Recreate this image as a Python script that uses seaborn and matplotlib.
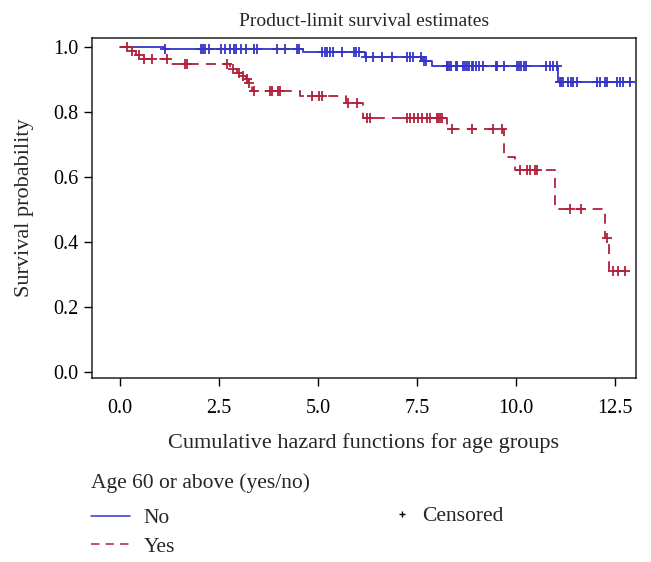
import numpy as np
import pandas as pd
import matplotlib
matplotlib.use("Agg")
import matplotlib.pyplot as plt
import seaborn as sns
from matplotlib.lines import Line2D

# ---- data ----
no_times = [0.0, 1.12, 4.63, 6.19, 7.64, 7.87, 11.07, 12.92]
no_surv = [1.0, 0.993, 0.985, 0.967, 0.955, 0.941, 0.893, 0.893]
no_censored = [1.15, 2.05, 2.10, 2.14, 2.26, 2.56, 2.66, 2.78, 2.89, 2.94, 3.06,
               3.19, 3.39, 3.46, 3.96, 4.17, 4.47, 4.53, 5.10, 5.18, 5.24, 5.31,
               5.39, 5.60, 5.90, 5.96, 6.03, 6.22, 6.40, 6.61, 6.86, 7.24, 7.33,
               7.41, 7.60, 7.68, 7.74, 8.25, 8.27, 8.32, 8.35, 8.49, 8.52, 8.66,
               8.71, 8.77, 8.82, 8.88, 8.92, 8.98, 9.07, 9.16, 9.50, 9.53, 9.71,
               10.03, 10.08, 10.14, 10.20, 10.25, 10.77, 10.86, 10.94, 11.03,
               11.10, 11.13, 11.18, 11.32, 11.39, 11.45, 11.53, 12.04, 12.12,
               12.25, 12.29, 12.54, 12.62, 12.69, 12.88]

yes_times = [0.0, 0.25, 0.42, 0.55, 1.27, 2.78, 2.95, 3.08, 3.18, 3.24, 3.33,
             4.55, 5.71, 6.15, 8.25, 9.70, 9.97, 10.98, 12.25, 12.36, 12.80]
yes_surv = [1.0, 0.988, 0.974, 0.961, 0.947, 0.933, 0.920, 0.910, 0.900, 0.887,
            0.864, 0.847, 0.826, 0.782, 0.746, 0.662, 0.620, 0.500, 0.410, 0.310,
            0.310]
yes_censored = [0.18, 0.30, 0.48, 0.62, 0.81, 1.19, 1.65, 1.70, 2.70, 2.85, 3.00,
                3.12, 3.21, 3.27, 3.38, 3.78, 3.84, 4.00, 4.05, 4.85, 5.04, 5.10,
                5.77, 5.98, 6.23, 6.32, 7.24, 7.33, 7.43, 7.54, 7.62, 7.75, 7.83,
                8.00, 8.04, 8.08, 8.13, 8.38, 8.88, 9.43, 9.64, 10.10, 10.27,
                10.35, 10.48, 10.54, 11.36, 11.64, 12.30, 12.45, 12.58, 12.75]

group_labels = ["No", "Yes"]
legend_title = "Age 60 or above (yes/no)"
title = "Product-limit survival estimates"
xlabel = "Cumulative hazard functions for age groups"
ylabel = "Survival probability"
xticks = [0.0, 2.5, 5.0, 7.5, 10.0, 12.5]
yticks = [0.0, 0.2, 0.4, 0.6, 0.8, 1.0]

BLUE = "#3434C8"
RED = "#B2203A"


def level_at(times, surv, t):
    idx = np.searchsorted(np.asarray(times), t, side="right") - 1
    return np.asarray(surv)[idx]


sns.set_theme(style="white")
plt.rcParams['font.family'] = ['Liberation Serif', 'DejaVu Serif']
plt.rcParams['lines.dashed_pattern'] = [5.5, 4.0]

W, H = 651, 562
fig = plt.figure(figsize=(W / 100, H / 100), dpi=100)
AX_L, AX_R, AX_T, AX_B = 92, 636, 38, 378
ax = fig.add_axes([AX_L / W, 1 - AX_B / H, (AX_R - AX_L) / W, (AX_B - AX_T) / H])

no_df = pd.DataFrame({"t": no_times, "S": no_surv})
yes_df = pd.DataFrame({"t": yes_times, "S": yes_surv})
sns.lineplot(data=no_df, x="t", y="S", drawstyle="steps-post", estimator=None,
             sort=False, color=BLUE, lw=1.3, ax=ax)
sns.lineplot(data=yes_df, x="t", y="S", drawstyle="steps-post", estimator=None,
             sort=False, color=RED, lw=1.3, linestyle="--", ax=ax)

no_c = pd.DataFrame({"t": no_censored,
                     "S": [level_at(no_times, no_surv, t) for t in no_censored]})
yes_c = pd.DataFrame({"t": yes_censored,
                      "S": [level_at(yes_times, yes_surv, t) for t in yes_censored]})
sns.scatterplot(data=no_c, x="t", y="S", marker="+", s=50, color=BLUE,
                linewidth=1.3, ax=ax, zorder=3)
sns.scatterplot(data=yes_c, x="t", y="S", marker="+", s=50, color=RED,
                linewidth=1.3, ax=ax, zorder=3)

ax.set_xlim(-0.70, 13.03)
ax.set_ylim(-0.02, 1.027)
ax.set_xticks(xticks)
ax.set_xticklabels([f"{v:.1f}" for v in xticks])
ax.set_yticks(yticks)
ax.set_yticklabels([f"{v:.1f}" for v in yticks])
ax.tick_params(axis="both", direction="out", length=5.5, width=1.0, colors="black",
               labelsize=14.5, left=True, bottom=True)
ax.tick_params(axis="x", pad=9.5)
ax.tick_params(axis="y", pad=4)
for sp in ax.spines.values():
    sp.set_visible(True)
    sp.set_color("#222222")
    sp.set_linewidth(1.1)

ax.set_title(title, fontsize=14, pad=9)
ax.set_xlabel(xlabel, fontsize=16)
ax.set_ylabel(ylabel, fontsize=16)
ax.xaxis.label.set_va("center")
ax.xaxis.set_label_coords(0.5, -(443 - AX_B) / (AX_B - AX_T))
ax.yaxis.label.set_va("center")
ax.yaxis.set_label_coords(-(AX_L - 25) / (AX_R - AX_L), 0.5)

h1 = [Line2D([], [], color=BLUE, lw=1.1), Line2D([], [], color=RED, lw=1.1, ls="--")]
leg1 = fig.legend(handles=h1, labels=group_labels, title=legend_title,
                  loc="upper left", bbox_to_anchor=(91 / W, 1 - 473 / H),
                  frameon=False, alignment="left", fontsize=15.5,
                  title_fontsize=15.5, handlelength=1.8, handletextpad=0.65,
                  labelspacing=0.40, borderpad=0, borderaxespad=0)
leg1._legend_box.sep = 11.0
h2 = [Line2D([], [], ls="none", marker="+", color="black", markersize=5, mew=1.0)]
leg2 = fig.legend(handles=h2, labels=["Censored"], loc="upper left",
                  bbox_to_anchor=(396 / W, 1 - 506 / H), frameon=False,
                  fontsize=15.5, handlelength=0.6, handletextpad=0.6,
                  borderpad=0, borderaxespad=0)

fig.savefig("out.png", dpi=100)
